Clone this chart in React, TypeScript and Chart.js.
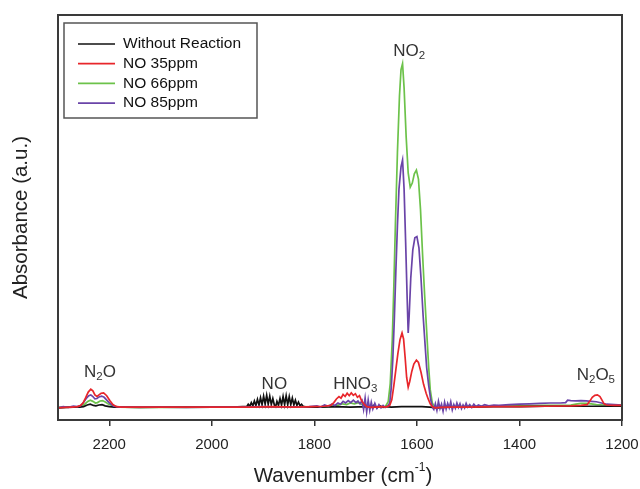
import React, { useEffect, useRef } from "react";
import { Chart, registerables } from "chart.js";

Chart.register(...registerables);

const FONT = "'Liberation Sans', Arial, Helvetica, sans-serif";

// ---- Data (wavenumber cm^-1, absorbance a.u.) ----
const seriesNames = ["Without Reaction", "NO 35ppm", "NO 66ppm", "NO 85ppm"];
const seriesColors = ["#111111", "#e8262b", "#6cc24a", "#6a44a8"];
const xTickValues = [2200, 2000, 1800, 1600, 1400, 1200];

const withoutReaction: [number, number][] = [
  [2300, 3.0], [2285, 3.1], [2270, 3.2], [2258, 3.2], [2250, 3.3], [2243, 3.7], [2237, 3.9], [2231, 3.6],
  [2226, 3.5], [2220, 3.7], [2214, 3.8], [2208, 3.5], [2200, 3.3], [2190, 3.2], [2170, 3.2], [2140, 3.1],
  [2100, 3.2], [2060, 3.2], [2020, 3.2], [1990, 3.2], [1960, 3.2], [1940, 3.3],
  [1932, 3.3], [1929, 3.9], [1926, 3.4], [1923, 4.3], [1920, 3.5], [1917, 4.7], [1914, 3.6], [1911, 5.1],
  [1908, 3.7], [1905, 5.5], [1902, 3.8], [1899, 5.9], [1896, 3.9], [1893, 6.1], [1890, 3.9], [1887, 5.9],
  [1884, 3.8], [1881, 5.3], [1878, 3.7], [1875.5, 3.3], [1873, 4.6], [1870, 3.6], [1867, 5.3], [1864, 3.7],
  [1861, 5.8], [1858, 3.8], [1855, 6.0], [1852, 3.8], [1849, 5.8], [1846, 3.8], [1843, 5.4], [1840, 3.7],
  [1837, 4.9], [1834, 3.6], [1831, 4.4], [1828, 3.5], [1825, 3.9], [1822, 3.4], [1818, 3.3],
  [1810, 3.2], [1790, 3.2], [1760, 3.3], [1730, 3.2], [1700, 3.3], [1690, 3.1], [1684, 3.6], [1678, 3.0],
  [1672, 3.5], [1666, 3.1], [1660, 3.3], [1650, 3.2], [1630, 3.3], [1610, 3.3], [1590, 3.3], [1575, 3.2],
  [1560, 3.0], [1540, 3.2], [1500, 3.2], [1450, 3.3], [1400, 3.3], [1350, 3.4], [1300, 3.4], [1250, 3.4],
  [1220, 3.4], [1200, 3.4],
];

const no35ppm: [number, number][] = [
  [2300, 3.0], [2285, 3.1], [2272, 3.2], [2262, 3.3], [2256, 3.6], [2251, 4.2], [2246, 5.5], [2241, 6.9],
  [2236, 7.6], [2232, 7.2], [2228, 6.2], [2224, 5.8], [2220, 6.2], [2216, 6.6], [2211, 6.7], [2205, 6.0],
  [2199, 4.8], [2193, 3.8], [2186, 3.3], [2175, 3.2], [2150, 3.2], [2120, 3.2], [2080, 3.2], [2040, 3.2],
  [2000, 3.2], [1960, 3.2], [1920, 3.2], [1880, 3.3], [1840, 3.2], [1800, 3.3], [1780, 3.4], [1768, 3.6],
  [1762, 4.3], [1757, 5.2], [1752, 5.8], [1748, 5.4], [1744, 6.3], [1740, 5.8], [1736, 6.6], [1732, 6.0],
  [1728, 6.7], [1724, 6.1], [1720, 6.5], [1716, 5.6], [1712, 6.0], [1708, 4.8], [1703, 3.9], [1698, 3.3],
  [1690, 3.1], [1680, 3.2], [1670, 3.3], [1660, 3.2], [1653, 3.6], [1649, 5.0], [1645, 8.5], [1641, 12.5],
  [1637, 16.5], [1633, 19.8], [1629, 21.5], [1626, 20.0], [1623, 15.5], [1620, 10.5], [1617, 8.1], [1614, 9.5],
  [1610, 12.0], [1606, 13.8], [1601, 14.8], [1597, 14.2], [1592, 11.8], [1587, 8.8], [1582, 6.6], [1578, 5.2],
  [1574, 4.0], [1570, 3.3], [1565, 3.0], [1555, 3.1], [1530, 3.2], [1500, 3.2], [1450, 3.3], [1400, 3.3],
  [1350, 3.4], [1300, 3.5], [1280, 3.6], [1268, 3.8], [1263, 4.6], [1258, 5.6], [1253, 6.1], [1248, 6.2],
  [1243, 5.8], [1239, 4.9], [1235, 4.0], [1230, 3.7], [1215, 3.6], [1200, 3.6],
];

const no66ppm: [number, number][] = [
  [2300, 3.1], [2280, 3.2], [2262, 3.2], [2254, 3.4], [2248, 3.9], [2242, 4.6], [2237, 4.9], [2232, 4.6],
  [2227, 4.2], [2223, 4.3], [2218, 4.7], [2213, 4.8], [2207, 4.4], [2200, 3.8], [2192, 3.4], [2180, 3.2],
  [2150, 3.1], [2100, 3.2], [2050, 3.1], [2000, 3.2], [1950, 3.2], [1900, 3.2], [1850, 3.2], [1800, 3.2],
  [1770, 3.3], [1755, 3.6], [1745, 4.0], [1737, 3.8], [1730, 4.2], [1722, 4.0], [1714, 4.3], [1708, 3.9],
  [1700, 3.5], [1690, 3.3], [1675, 3.2], [1662, 3.2], [1656, 4.5], [1652, 9.0], [1648, 20], [1645, 33],
  [1642, 48], [1638, 66], [1634, 80], [1631, 86.5], [1628, 88], [1625, 82], [1621, 70], [1617, 61],
  [1613, 57.5], [1609, 58.5], [1605, 60.8], [1601, 61.7], [1597, 59.5], [1593, 52], [1589, 41], [1585, 31],
  [1581, 22], [1577, 13], [1574, 7.5], [1570, 4.2], [1566, 3.3], [1560, 3.1], [1540, 3.3], [1500, 3.4],
  [1450, 3.4], [1400, 3.5], [1350, 3.6], [1300, 3.7], [1290, 3.9], [1280, 4.1], [1270, 4.1], [1260, 4.0],
  [1250, 3.8], [1235, 3.7], [1215, 3.6], [1200, 3.6],
];

const no85ppm: [number, number][] = [
  [2300, 3.0], [2290, 3.3], [2280, 3.1], [2270, 3.4], [2262, 3.3], [2255, 3.6], [2250, 4.4], [2245, 5.3],
  [2240, 6.0], [2236, 6.2], [2232, 5.8], [2228, 5.2], [2224, 5.3], [2220, 5.7], [2215, 5.9], [2210, 5.6],
  [2204, 4.8], [2198, 4.0], [2191, 3.4], [2180, 3.2], [2150, 3.2], [2100, 3.2], [2050, 3.1], [2000, 3.2],
  [1950, 3.2], [1900, 3.3], [1850, 3.2], [1810, 3.3], [1795, 3.5], [1788, 3.2], [1780, 3.7], [1773, 3.4],
  [1766, 3.9], [1760, 3.6], [1754, 4.2], [1749, 3.9], [1744, 4.6], [1739, 4.2], [1734, 4.8], [1729, 4.3],
  [1724, 4.9], [1719, 4.3], [1715, 4.7], [1711, 4.0], [1707, 4.8], [1704, 2.6], [1701, 5.4], [1698, 2.0],
  [1695, 4.9], [1692, 2.4], [1689, 4.4], [1686, 2.7], [1682, 4.1], [1678, 2.9], [1674, 3.8], [1670, 3.0],
  [1666, 3.6], [1662, 3.1], [1657, 3.4], [1653, 4.2], [1650, 8], [1647, 15], [1644, 25], [1641, 37],
  [1638, 48], [1635, 57], [1631, 62.5], [1628, 64.2], [1625, 57], [1622, 44], [1619, 30], [1617, 21.5],
  [1615, 26], [1612, 35], [1608, 42], [1604, 45], [1600, 45.3], [1596, 42.5], [1592, 35], [1588, 26],
  [1584, 18.5], [1581, 13], [1577, 8.5], [1573, 5.0], [1569, 3.0], [1567, 2.6], [1564, 4.0], [1561, 2.4],
  [1558, 4.6], [1555, 2.8], [1552, 3.9], [1549, 2.2], [1546, 4.4], [1543, 2.7], [1540, 4.1], [1537, 3.0],
  [1534, 4.5], [1531, 2.5], [1528, 3.8], [1525, 2.9], [1522, 4.2], [1519, 3.1], [1516, 4.0], [1513, 2.8],
  [1510, 3.7], [1507, 3.0], [1504, 4.1], [1501, 3.2], [1497, 3.8], [1493, 3.1], [1489, 3.9], [1485, 3.3],
  [1480, 3.7], [1474, 3.4], [1468, 3.8], [1460, 3.5], [1450, 3.7], [1440, 3.6], [1420, 3.8], [1400, 3.9],
  [1380, 4.0], [1360, 4.1], [1340, 4.2], [1320, 4.2], [1310, 4.3], [1306, 4.9], [1300, 4.8], [1290, 4.7],
  [1280, 4.8], [1270, 4.7], [1260, 4.6], [1250, 4.5], [1240, 4.2], [1230, 3.9], [1215, 3.8], [1200, 3.7],
];

// Band labels: text parts alternate normal / subscript
const bandLabelParts = [["N", "2", "O"], ["NO"], ["HNO", "3"], ["NO", "2"], ["N", "2", "O", "5"]];
const bandLabelWavenumbers = [2218, 1878, 1720, 1615, 1251];
const bandLabelLevels = [11.8, 8.9, 8.9, 91.1, 11.1];

const seriesData = [withoutReaction, no35ppm, no66ppm, no85ppm];
const drawOrder = [2, 0, 3, 1];

function drawParts(
  ctx: CanvasRenderingContext2D,
  parts: string[],
  cx: number,
  cy: number,
  size: number,
  smallSize: number,
  shift: number
) {
  const widths = parts.map((p, i) => {
    ctx.font = `${i % 2 ? smallSize : size}px ${FONT}`;
    return ctx.measureText(p).width;
  });
  const total = widths.reduce((a, b) => a + b, 0);
  let x = cx - total / 2;
  parts.forEach((p, i) => {
    ctx.font = `${i % 2 ? smallSize : size}px ${FONT}`;
    ctx.fillText(p, x, cy + (i % 2 ? shift : 0));
    x += widths[i];
  });
}

const decorPlugin = {
  id: "decor",
  afterDatasetsDraw(chart: any) {
    const { ctx, chartArea, scales } = chart;
    const xs = scales.x;
    const ys = scales.y;
    ctx.save();
    // band labels
    ctx.fillStyle = "#333333";
    ctx.textBaseline = "middle";
    ctx.textAlign = "left";
    bandLabelParts.forEach((parts, i) => {
      const px = xs.getPixelForValue(bandLabelWavenumbers[i]);
      const py = ys.getPixelForValue(bandLabelLevels[i]);
      drawParts(ctx, parts, px, py, 17, 11.5, 5);
    });
    // frame
    ctx.strokeStyle = "#3a3a3a";
    ctx.lineWidth = 2;
    ctx.strokeRect(chartArea.left, chartArea.top, chartArea.right - chartArea.left, chartArea.bottom - chartArea.top);
    // legend
    const lx = chartArea.left + 6;
    const ly = chartArea.top + 8;
    const lw = 193;
    const lh = 95;
    ctx.fillStyle = "#ffffff";
    ctx.fillRect(lx, ly, lw, lh);
    ctx.strokeStyle = "#555555";
    ctx.lineWidth = 1.5;
    ctx.strokeRect(lx, ly, lw, lh);
    seriesNames.forEach((name, i) => {
      const rowY = ly + 21 + i * 19.7;
      ctx.strokeStyle = seriesColors[i];
      ctx.lineWidth = 1.7;
      ctx.beginPath();
      ctx.moveTo(lx + 14, rowY);
      ctx.lineTo(lx + 51, rowY);
      ctx.stroke();
      ctx.fillStyle = "#111111";
      ctx.font = `15.5px ${FONT}`;
      ctx.textBaseline = "middle";
      ctx.textAlign = "left";
      ctx.fillText(name, lx + 59, rowY);
    });
    // x axis title with superscript
    ctx.fillStyle = "#222222";
    ctx.textBaseline = "middle";
    const cx = (chartArea.left + chartArea.right) / 2 + 3;
    const titleParts = ["Wavenumber (cm", "-1", ")"];
    drawParts(ctx, titleParts, cx, 476, 20.5, 12, -8);
    ctx.restore();
  },
};

export default function App() {
  const canvasRef = useRef<HTMLCanvasElement>(null);

  useEffect(() => {
    document.body.style.margin = "0";
    const canvas = canvasRef.current;
    if (!canvas) return;
    const chart = new Chart(canvas, {
      type: "line",
      data: {
        datasets: seriesData.map((series, i) => ({
          label: seriesNames[i],
          data: series.map(([x, y]) => ({ x, y })),
          borderColor: seriesColors[i],
          backgroundColor: seriesColors[i],
          borderWidth: 1.7,
          pointRadius: 0,
          tension: 0,
          fill: false,
          order: drawOrder[i],
        })),
      },
      options: {
        responsive: false,
        animation: false,
        devicePixelRatio: 1,
        layout: { padding: { top: 15, right: 18, bottom: 0, left: 0 } },
        plugins: { legend: { display: false }, tooltip: { enabled: false } },
        scales: {
          x: {
            type: "linear",
            reverse: true,
            min: 1200,
            max: 2300,
            afterBuildTicks: (scale: any) => {
              scale.ticks = xTickValues.map((v) => ({ value: v }));
            },
            afterFit: (scale: any) => {
              scale.height = 69;
              scale.paddingLeft = 0;
              scale.paddingRight = 0;
            },
            ticks: {
              color: "#222222",
              font: { family: FONT, size: 15 },
              padding: 10,
              maxRotation: 0,
              autoSkip: false,
              callback: (v: any) => String(v),
            },
            grid: { display: true, drawOnChartArea: false, drawTicks: true, tickLength: 6, color: "#333333", lineWidth: 1.5 },
            border: { display: false },
          },
          y: {
            type: "linear",
            min: 0,
            max: 100,
            afterFit: (scale: any) => {
              scale.width = 58;
            },
            ticks: { display: false },
            grid: { display: false },
            border: { display: false },
            title: {
              display: true,
              text: "Absorbance (a.u.)",
              color: "#222222",
              font: { family: FONT, size: 20.5 },
              padding: { top: 9, bottom: 0 },
            },
          },
        },
      },
      plugins: [decorPlugin],
    });
    return () => chart.destroy();
  }, []);

  return (
    <div style={{ width: 640, height: 489 }}>
      <canvas ref={canvasRef} width={640} height={489} style={{ display: "block" }} />
    </div>
  );
}
